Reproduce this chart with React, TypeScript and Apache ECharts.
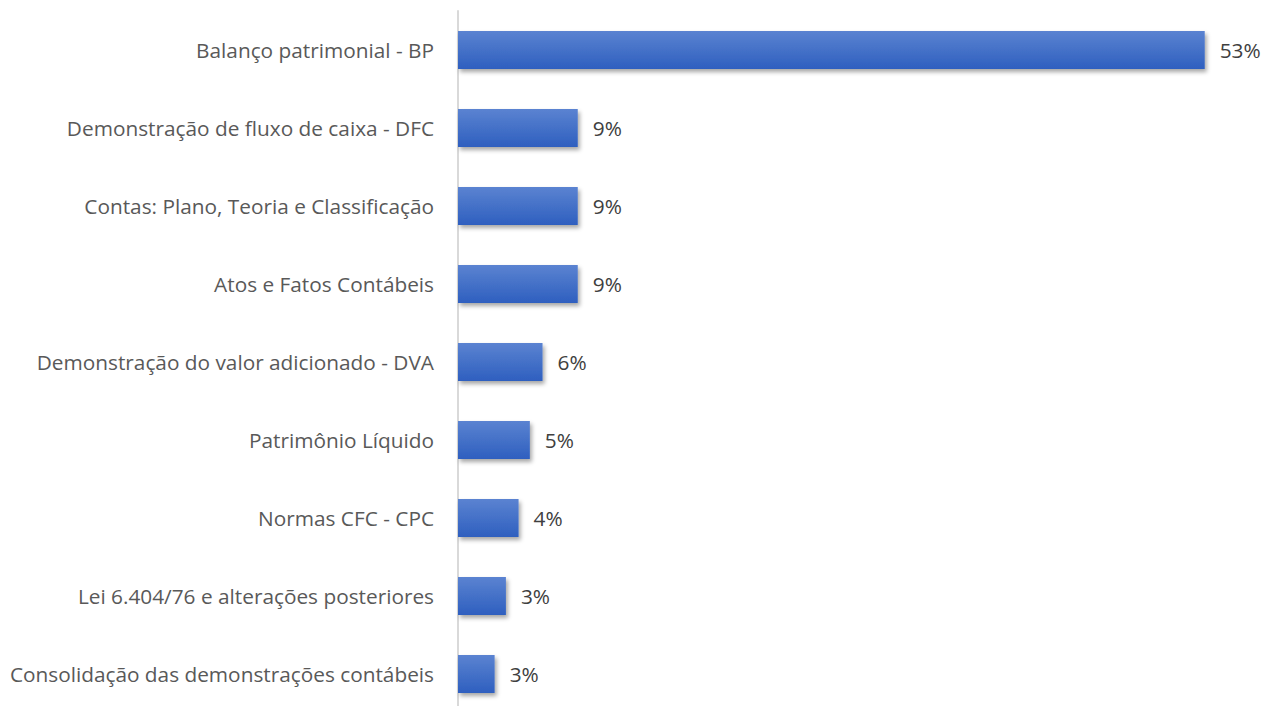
import React, { useEffect, useRef } from "react";
import * as echarts from "echarts";

const categories = [
  "Balanço patrimonial - BP",
  "Demonstração de fluxo de caixa - DFC",
  "Contas: Plano, Teoria e Classificação",
  "Atos e Fatos Contábeis",
  "Demonstração do valor adicionado - DVA",
  "Patrimônio Líquido",
  "Normas CFC - CPC",
  "Lei 6.404/76 e alterações posteriores",
  "Consolidação das demonstrações contábeis",
];
const values = [53.0, 8.5, 8.5, 8.5, 6.0, 5.1, 4.3, 3.4, 2.6];

export default function App() {
  const ref = useRef<HTMLDivElement>(null);
  useEffect(() => {
    document.body.style.margin = "0";
    const chart = echarts.init(ref.current!, undefined, { renderer: "svg" });
    chart.setOption({
      animation: false,
      grid: { left: 458, right: 18, top: 11, height: 702, outerBoundsMode: "none" },
      xAxis: {
        type: "value",
        min: 0,
        max: 56,
        show: false,
      },
      yAxis: {
        type: "category",
        inverse: true,
        data: categories,
        axisLine: { show: true, lineStyle: { color: "#d9d9d9", width: 2 } },
        axisTick: { show: false },
        axisLabel: {
          color: "#595959",
          fontSize: 20.8,
          fontFamily: "Open Sans",
          margin: 24,
        },
      },
      series: [
        {
          type: "bar",
          data: values,
          barCategoryGap: "51%",
          itemStyle: {
            color: new echarts.graphic.LinearGradient(0, 0, 0, 1, [
              { offset: 0, color: "#5b83d1" },
              { offset: 1, color: "#2e5fbf" },
            ]),
            shadowBlur: 4,
            shadowOffsetX: 2,
            shadowOffsetY: 3,
            shadowColor: "rgba(0,0,0,0.35)",
          },
          label: {
            show: true,
            position: "right",
            distance: 15,
            color: "#404040",
            fontSize: 20.8,
            fontFamily: "Open Sans",
            formatter: (p: any) => Math.round(p.value) + "%",
          },
        },
      ],
    });
    return () => chart.dispose();
  }, []);
  return <div ref={ref} style={{ width: 1265, height: 706 }} />;
}
